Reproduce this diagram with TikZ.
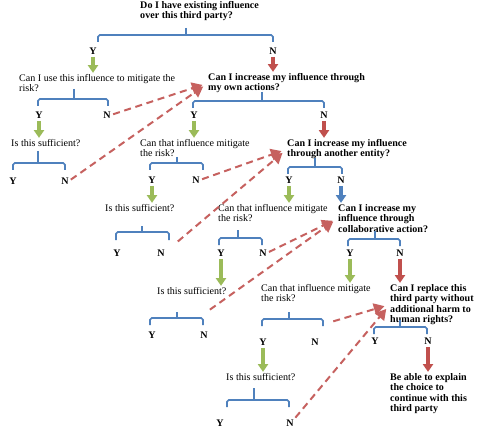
\documentclass[tikz,border=0pt]{standalone}
\usepackage{fontspec}
\setmainfont{Liberation Serif}
\usetikzlibrary{arrows.meta}
\definecolor{TreeBlue}{HTML}{4F81BD}
\definecolor{TreeGreen}{HTML}{9BBB59}
\definecolor{TreeRed}{HTML}{C0504D}
\definecolor{TreeBack}{HTML}{FFFFFF}
\begin{document}
\begin{tikzpicture}[x=0.03cm, y=-0.03cm,
  ask/.style={anchor=north west, inner sep=0pt, align=left,
              font=\fontsize{8.6}{8.9}\selectfont},
  key/.style={ask, font=\fontsize{8.6}{8.9}\selectfont\bfseries},
  yn/.style={inner sep=0pt, font=\fontsize{8.6}{8.9}\selectfont\bfseries},
  fork/.style={draw=TreeBlue, line width=1.4pt, rounded corners=1.5pt},
  yes/.style={-{Triangle[length=6.5pt,width=8.5pt]}, line width=2.8pt,
              draw=TreeGreen, shorten >=1pt, shorten <=2pt},
  no/.style={yes, draw=TreeRed},
  other/.style={yes, draw=TreeBlue},
  jump/.style={-{Triangle[length=9pt,width=10pt]}, line width=1.7pt,
               draw=TreeRed!90!white, dash pattern=on 6pt off 4pt,
               shorten >=5pt, shorten <=2pt}
]
\useasboundingbox[fill=TreeBack] (0,0) rectangle (486,430);

\node[key] (q1) at (140,1) {Do I have existing influence\\over this third party?};
\node[ask] (q2) at (19,74) {Can I use this influence to mitigate the\\risk?};
\node[key] (q3) at (208,73) {Can I increase my influence through\\my own actions?};
\node[ask] (q4) at (11,139) {Is this sufficient?};
\node[ask] (q5) at (140,139) {Can that influence mitigate\\the risk?};
\node[key] (q7) at (287,139) {Can I increase my influence\\through another entity?};
\node[ask] (q6) at (105,204) {Is this sufficient?};
\node[ask] (q8) at (218,204) {Can that influence mitigate\\the risk?};
\node[key] (q9) at (338,204) {Can I increase my\\influence through\\collaborative action?};
\node[ask] (q10) at (157,287) {Is this sufficient?};
\node[ask] (q11) at (261,284) {Can that influence mitigate\\the risk?};
\node[key] (q13) at (390,284) {Can I replace this\\third party without\\additional harm to\\human rights?};
\node[ask] (q12) at (226,373) {Is this sufficient?};
\node[key] (q14) at (390,373) {Be able to explain\\the choice to\\continue with this\\third party};

\node[yn] (y1) at (93,51) {Y};
\node[yn] (n1) at (273,51) {N};
\node[yn] (y2) at (39,115) {Y};
\node[yn] (n2) at (107,115) {N};
\node[yn] (y3) at (194,115) {Y};
\node[yn] (n3) at (324,115) {N};
\node[yn] (y4) at (13,181) {Y};
\node[yn] (n4) at (65,181) {N};
\node[yn] (y5) at (152,180) {Y};
\node[yn] (n5) at (196,180) {N};
\node[yn] (y7) at (289,180) {Y};
\node[yn] (n7) at (341,180) {N};
\node[yn] (y6) at (117,253) {Y};
\node[yn] (n6) at (161,253) {N};
\node[yn] (y8) at (221,253) {Y};
\node[yn] (n8) at (263,253) {N};
\node[yn] (y9) at (350,253) {Y};
\node[yn] (n9) at (400,253) {N};
\node[yn] (y10) at (152,335) {Y};
\node[yn] (n10) at (204,335) {N};
\node[yn] (y11) at (263,342) {Y};
\node[yn] (n11) at (315,342) {N};
\node[yn] (y13) at (375,341) {Y};
\node[yn] (n13) at (428,341) {N};
\node[yn] (y12) at (220,423) {Y};
\node[yn] (n12) at (290,423) {N};

\draw[fork] (186,28) -- (186,35);
\draw[fork] (98,42) |- (273,35) -- (273,42);
\draw[fork] (74,89) -- (74,99);
\draw[fork] (38,106) |- (108,99) -- (108,106);
\draw[fork] (262,92) -- (262,101);
\draw[fork] (193,108) |- (324,101) -- (324,108);
\draw[fork] (38,151) -- (38,163);
\draw[fork] (13,170) |- (65,163) -- (65,170);
\draw[fork] (177,157) -- (177,163);
\draw[fork] (150,170) |- (203,163) -- (203,170);
\draw[fork] (315,158) -- (315,167);
\draw[fork] (288,174) |- (342,167) -- (342,174);
\draw[fork] (142,226) -- (142,232);
\draw[fork] (116,240) |- (169,232) -- (169,240);
\draw[fork] (238,230) -- (238,238);
\draw[fork] (219,245) |- (262,238) -- (262,245);
\draw[fork] (375,231) -- (375,239);
\draw[fork] (348,246) |- (400,239) -- (400,246);
\draw[fork] (177,312) -- (177,318);
\draw[fork] (150,325) |- (203,318) -- (203,325);
\draw[fork] (289,312) -- (289,319);
\draw[fork] (262,326) |- (323,319) -- (323,326);
\draw[fork] (400,320) -- (400,327);
\draw[fork] (374,334) |- (427,327) -- (427,334);
\draw[fork] (254,388) -- (254,400);
\draw[fork] (227,407) |- (289,400) -- (289,407);

\draw[yes] (y1.south) -- (y1.south |- q2.north);
\draw[no] (n1.south) -- (n1.south |- q3.north);
\draw[yes] (y2.south) -- (y2.south |- q4.north);
\draw[yes] (y3.south) -- (y3.south |- q5.north);
\draw[no] (n3.south) -- (n3.south |- q7.north);
\draw[yes] (y5.south) -- (y5.south |- q6.north);
\draw[yes] (y7.south) -- (y7.south |- q8.north);
\draw[other] (n7.south) -- (n7.south |- q9.north);
\draw[yes] (y8.south) -- (y8.south |- q10.north);
\draw[yes] (y9.south) -- (y9.south |- q11.north);
\draw[no] (n9.south) -- (n9.south |- q13.north);
\draw[yes] (y11.south) -- (y11.south |- q12.north);
\draw[no] (n13.south) -- (n13.south |- q14.north);

\coordinate (s6) at (176,243);
\coordinate (s10) at (208,311);
\coordinate (s11) at (331,322);
\draw[jump] (n2.east) -- (q3.west);
\draw[jump] (n4.east) -- (q3.west);
\draw[jump] (n5.east) -- (q7.west);
\draw[jump] (s6) -- (q7.west);
\draw[jump] (n8.east) -- (q9.west);
\draw[jump] (s10) -- (q9.west);
\draw[jump] (s11) -- (q13.west);
\draw[jump] (n12.north east) -- (q13.west);
\end{tikzpicture}
\end{document}
